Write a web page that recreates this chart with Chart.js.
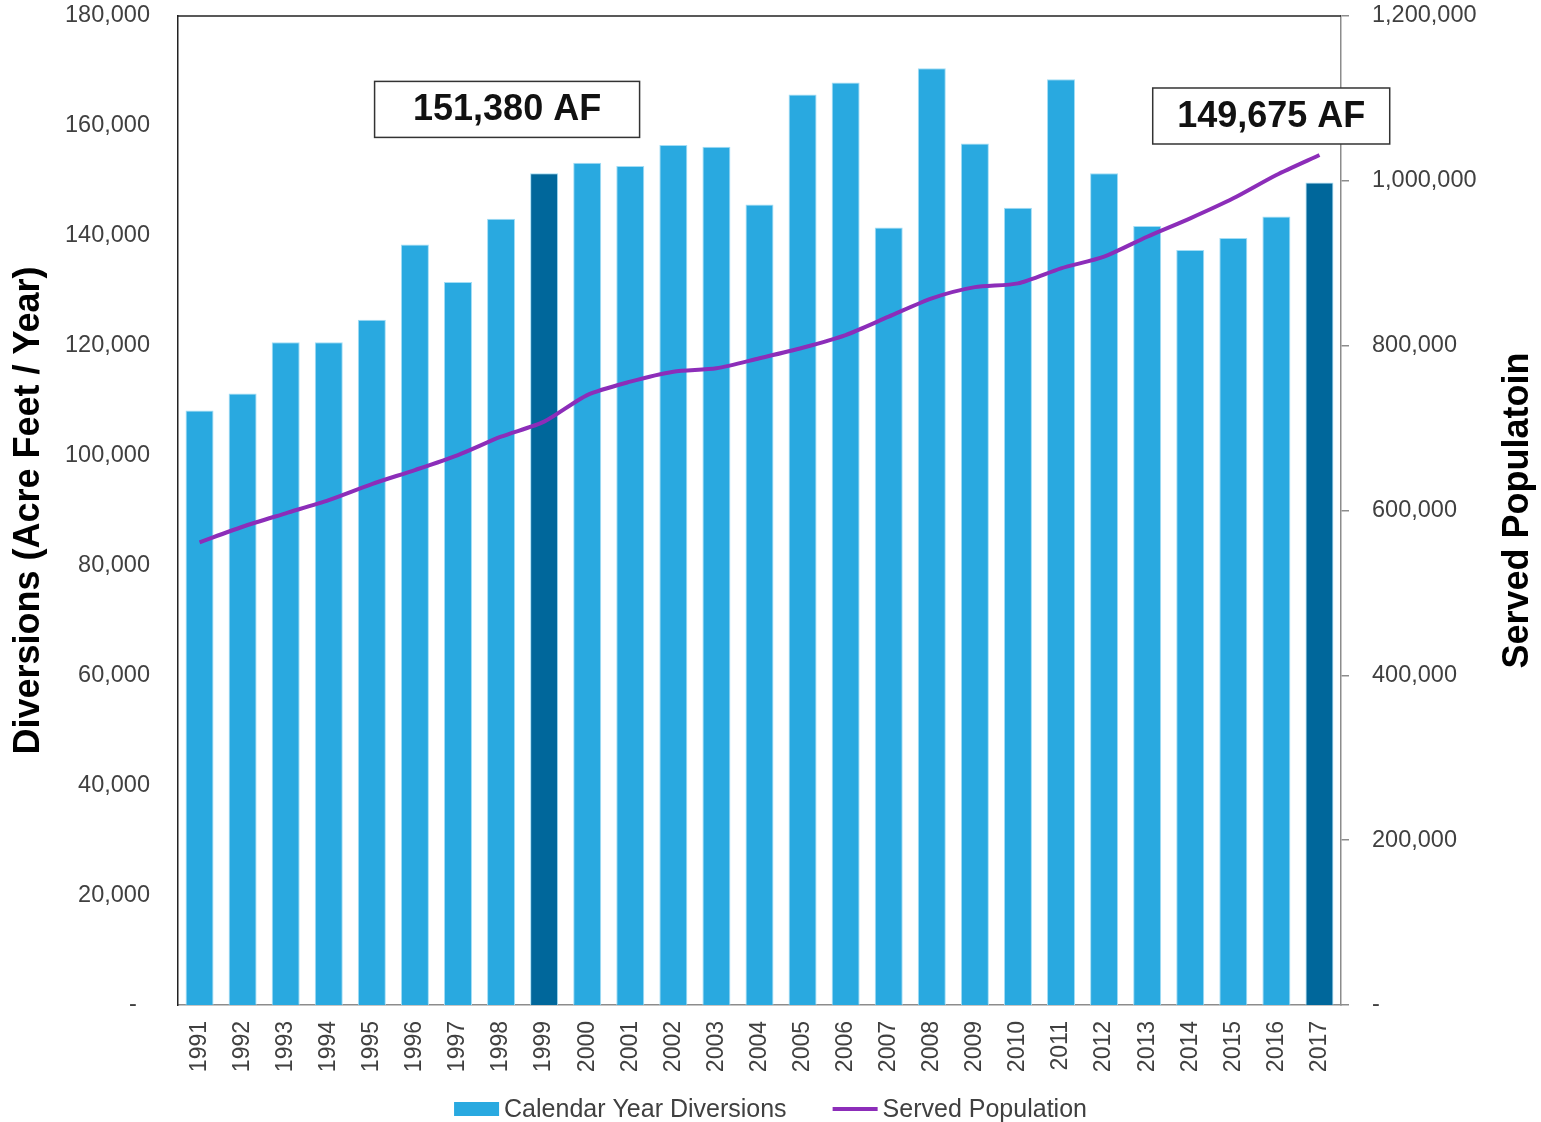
<!DOCTYPE html>
<html>
<head>
<meta charset="utf-8">
<title>Diversions and Served Population</title>
<script src="https://cdn.jsdelivr.net/npm/chart.js@4.4.1/dist/chart.umd.min.js"></script>
<style>
    html, body { margin: 0; padding: 0; background: #fff; }
    #wrap { width: 1541px; height: 1122px; }
</style>
</head>
<body>
<div id="wrap"><canvas id="graph" width="1541" height="1122"></canvas></div>
<script>
const years = ["1991", "1992", "1993", "1994", "1995", "1996", "1997", "1998", "1999", "2000",
    "2001", "2002", "2003", "2004", "2005", "2006", "2007", "2008", "2009", "2010",
    "2011", "2012", "2013", "2014", "2015", "2016", "2017"]
const diversions = [108200, 111300, 120600, 120600, 124700, 138400, 131600, 143100, 151380, 153300,
    152700, 156500, 156200, 145700, 165700, 167900, 141500, 170500, 156800, 145100,
    168500, 151400, 141800, 137400, 139600, 143500, 149675]
const population = [561400, 580300, 596600, 612700, 632100, 649100, 667300, 689600, 707800, 740000,
    756300, 768400, 772500, 784700, 797500, 812900, 835200, 857400, 871000, 875600,
    893800, 908000, 932200, 954500, 978800, 1007100, 1031300]
const highlightYears = ["1999", "2017"]
const leftTicks = [0, 20000, 40000, 60000, 80000, 100000, 120000, 140000, 160000, 180000]
const rightTicks = [0, 200000, 400000, 600000, 800000, 1000000, 1200000]

const barColor = "#29A9E0"
const barDark = "#00679B"
const barEdge = "#A2DDF5"
const lineColor = "#8C2DB9"
const textColor = "#404040"
const fontFamily = "'Liberation Sans', Arial, sans-serif"

// callout boxes over the highlighted years
const callouts = [
    { year: "1999", shift: -0.86, y: 163000, width: 265 },
    { year: "2017", shift: -1.12, y: 161800, width: 237 },
]

function tickText(value) {
    if (value === 0) return "-  "
    return value.toLocaleString("en-US")
}

// keep the tick padding from pushing the plot area in
function fitY(width) {
    return function (scale) {
        scale.width = width
        scale.paddingTop = 12
        scale.paddingBottom = 12
    }
}

const frame = {
    id: "frame",
    afterDraw(chart) {
        const ctx = chart.ctx
        const area = chart.chartArea
        const x = chart.scales.x
        const y = chart.scales.y
        const y1 = chart.scales.y1

        // top border of the plot
        ctx.save()
        ctx.strokeStyle = "#222"
        ctx.lineWidth = 1.5
        ctx.beginPath()
        ctx.moveTo(area.left, area.top)
        ctx.lineTo(area.right, area.top)
        ctx.stroke()
        ctx.restore()

        // callouts
        callouts.forEach(function (c) {
            const i = years.indexOf(c.year)
            const cx = x.getPixelForValue(i + c.shift)
            const cy = y.getPixelForValue(c.y)
            const h = 56
            ctx.save()
            ctx.fillStyle = "#fff"
            ctx.fillRect(cx - c.width / 2, cy - h / 2, c.width, h)
            ctx.strokeStyle = "#333"
            ctx.lineWidth = 1.5
            ctx.strokeRect(cx - c.width / 2, cy - h / 2, c.width, h)
            ctx.fillStyle = "#111"
            ctx.font = "bold 36px " + fontFamily
            ctx.textAlign = "center"
            ctx.textBaseline = "middle"
            ctx.fillText(diversions[i].toLocaleString("en-US") + " AF", cx, cy + 1)
            ctx.restore()
        })

        // right axis title, reading bottom to top
        ctx.save()
        ctx.translate(y1.right - 23, (area.top + area.bottom) / 2)
        ctx.rotate(-Math.PI / 2)
        ctx.font = "bold 36px " + fontFamily
        ctx.fillStyle = "#000"
        ctx.textAlign = "center"
        ctx.textBaseline = "middle"
        ctx.fillText("Served Populatoin", 0, 0)
        ctx.restore()

        // legend
        const items = chart.data.datasets.map((ds) => ({ label: ds.label, type: ds.type, color: ds.legendColor }))
        ctx.save()
        ctx.font = "25px " + fontFamily
        const swatch = 45
        const gap = 5
        const itemGap = 46
        let total = 0
        items.forEach((it) => {
            it.w = swatch + gap + ctx.measureText(it.label).width
            total += it.w
        })
        total += itemGap * (items.length - 1)
        let lx = chart.width / 2 - total / 2
        const ly = area.bottom + 104
        items.forEach((it) => {
            if (it.type === "bar") {
                ctx.fillStyle = it.color
                ctx.fillRect(lx, ly - 7, swatch, 14)
            } else {
                ctx.strokeStyle = it.color
                ctx.lineWidth = 4
                ctx.beginPath()
                ctx.moveTo(lx, ly)
                ctx.lineTo(lx + swatch, ly)
                ctx.stroke()
            }
            ctx.fillStyle = textColor
            ctx.textAlign = "left"
            ctx.textBaseline = "middle"
            ctx.fillText(it.label, lx + swatch + gap, ly + 1)
            lx += it.w + itemGap
        })
        ctx.restore()
    },
}

const chartID = document.getElementById("graph").getContext("2d")
let graphic = new Chart(chartID, {
    data: {
        labels: years,
        datasets: [
            {
                type: "bar",
                label: "Calendar Year Diversions",
                data: diversions,
                backgroundColor: years.map((yr) => (highlightYears.includes(yr) ? barDark : barColor)),
                borderColor: barEdge,
                borderWidth: 1,
                barPercentage: 0.65,
                categoryPercentage: 1,
                yAxisID: "y",
                order: 2,
                legendColor: barColor,
            },
            {
                type: "line",
                label: "Served Population",
                data: population,
                borderColor: lineColor,
                borderWidth: 4,
                pointRadius: 0,
                tension: 0.25,
                yAxisID: "y1",
                order: 1,
                legendColor: lineColor,
            },
        ],
    },
    options: {
        responsive: false,
        animation: false,
        layout: { padding: { top: 16, left: 0, right: 0, bottom: 0 } },
        plugins: {
            legend: { display: false },
            tooltip: { enabled: false },
        },
        scales: {
            x: {
                grid: { display: false },
                border: { display: true, color: "#8c8c8c", width: 1.5 },
                ticks: {
                    autoSkip: false,
                    minRotation: 90,
                    maxRotation: 90,
                    padding: 8,
                    color: textColor,
                    font: { family: fontFamily, size: 23 },
                },
                afterFit(scale) {
                    scale.height = 117
                },
            },
            y: {
                position: "left",
                min: 0,
                max: 180000,
                afterBuildTicks(scale) {
                    scale.ticks = leftTicks.map((v) => ({ value: v }))
                },
                grid: { display: false, drawTicks: false },
                border: { display: true, color: "#222", width: 1.5 },
                ticks: {
                    padding: 28,
                    color: textColor,
                    font: { family: fontFamily, size: 23.5 },
                    callback: tickText,
                },
                title: {
                    display: true,
                    text: "Diversions (Acre Feet / Year)",
                    color: "#000",
                    font: { family: fontFamily, size: 36, weight: "bold" },
                    padding: { top: 7, bottom: 0 },
                },
                afterFit: fitY(178),
            },
            y1: {
                position: "right",
                min: 0,
                max: 1200000,
                afterBuildTicks(scale) {
                    scale.ticks = rightTicks.map((v) => ({ value: v }))
                },
                grid: { display: true, drawOnChartArea: false, drawTicks: true, tickLength: 8, color: "#8c8c8c", lineWidth: 1.5 },
                border: { display: true, color: "#8c8c8c", width: 1.5 },
                ticks: {
                    padding: 23,
                    color: textColor,
                    font: { family: fontFamily, size: 23.5 },
                    callback: (v) => (v === 0 ? "-" : v.toLocaleString("en-US")),
                },
                afterFit: fitY(200),
            },
        },
    },
    plugins: [frame],
})
</script>
</body>
</html>
